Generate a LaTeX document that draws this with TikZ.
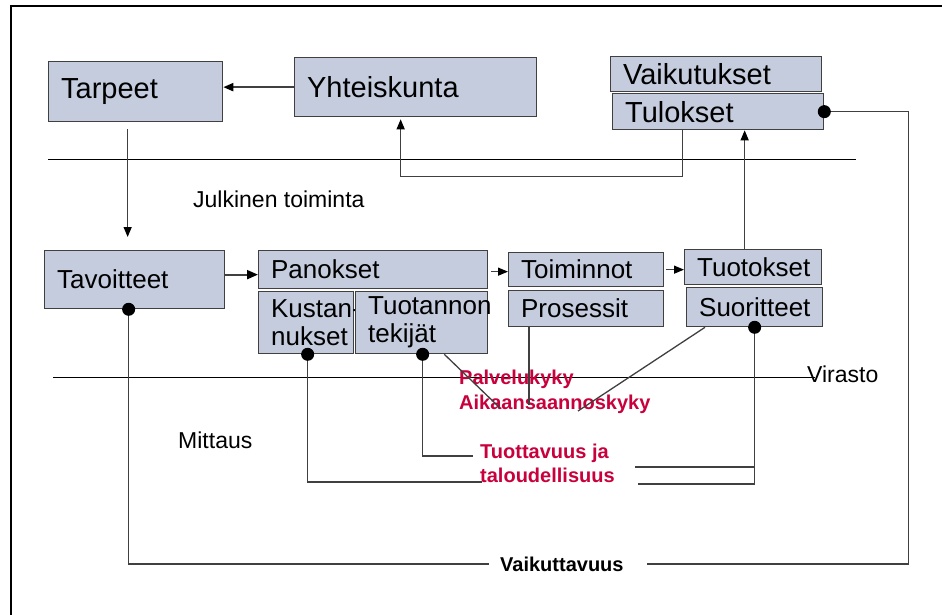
\documentclass[tikz,border=0pt]{standalone}
\usepackage{fontspec}
\setmainfont{Liberation Sans}
\usepackage{tikz}
\usetikzlibrary{arrows.meta}
\definecolor{boxfill}{RGB}{196,204,222}
\definecolor{boxline}{RGB}{64,64,64}
\definecolor{lblred}{RGB}{200,0,60}
\hyphenpenalty=10000

\begin{document}
\begin{tikzpicture}[x=1pt,y=-1pt,>={Triangle[length=10pt,width=8pt,color=black]},
  box/.style={draw=boxline,fill=boxfill,line width=1.3pt,anchor=north west,
    inner xsep=12.5pt,inner ysep=0pt,align=left},
  bigtxt/.style={font=\fontsize{29}{34}\selectfont},
  midtxt/.style={font=\fontsize{26}{28}\selectfont},
  plaintxt/.style={font=\fontsize{23}{27}\selectfont,inner sep=0pt},
  redlbl/.style={font=\bfseries\fontsize{20}{25}\selectfont,text=lblred,align=left,inner sep=0pt},
  conn/.style={draw=black!75,line width=1.3pt},
  dotline/.style={conn,{Circle[length=13pt,color=black]}-,shorten <=-6.5pt},
  sepline/.style={draw=black,line width=0.9pt}]
  \useasboundingbox (0,0) rectangle (942,615);
  \draw[line width=2pt] (11,615) -- (11,6) -- (942,6);
  \draw[sepline] (48,159) -- (856,159);
  \draw[sepline] (53,377) -- (815,377);

  \node[box,bigtxt,text width=149pt,minimum height=60pt] (tarpeet) at (48,61) {Tarpeet};
  \node[box,bigtxt,text width=217pt,minimum height=59pt] (yhteiskunta) at (294,57) {Yhteiskunta};
  \node[box,bigtxt,text width=186pt,minimum height=35pt] (vaikutukset) at (610,56) {Vaikutukset};
  \node[box,bigtxt,text width=186pt,minimum height=36pt] (tulokset) at (612,93) {Tulokset};

  \node[box,midtxt,text width=155pt,minimum height=58pt] (tavoitteet) at (44,250) {Tavoitteet};
  \node[box,midtxt,text width=204pt,minimum height=38pt] (panokset) at (258,250) {Panokset};
  \node[box,midtxt,text width=70pt,minimum height=62pt] (kustan) at (258,291) {\mbox{Kustan-}\\nukset};
  \node[box,midtxt,text width=107pt,minimum height=62pt] (tuotannon) at (355,291) {\mbox{Tuotannon}\\tekijät};
  \node[box,midtxt,text width=130pt,minimum height=34pt] (toiminnot) at (508,252) {Toiminnot};
  \node[box,midtxt,text width=130pt,minimum height=36pt] (prosessit) at (508,290) {Prosessit};
  \node[box,midtxt,text width=112pt,minimum height=35pt] (tuotokset) at (684,249) {\mbox{Tuotokset}};
  \node[box,midtxt,text width=111pt,minimum height=39pt] (suoritteet) at (686,287) {Suoritteet};

  \node[plaintxt,anchor=base west] (julkinen) at (193,207) {Julkinen toiminta};
  \node[plaintxt,anchor=base west] (mittaus) at (178,448) {Mittaus};
  \node[plaintxt,anchor=base west] (virasto) at (807,382) {Virasto};
  \node[redlbl,anchor=north west] (kyky) at (459,370) {Palvelukyky\\Aikaansaannoskyky};
  \node[redlbl,font=\bfseries\fontsize{20}{24}\selectfont,anchor=north west] (tuottavuus) at (480,444) {Tuottavuus ja\\taloudellisuus};
  \node[font=\bfseries\fontsize{20}{24}\selectfont,inner sep=0pt,anchor=base west] (vaikuttavuus) at (500,571) {Vaikuttavuus};

  \coordinate (kend) at (482,482);
  \coordinate (tend) at (473,456);
  \coordinate (diag1) at (500,408);
  \coordinate (proend) at (529,405);
  \coordinate (diag2) at (578,411);
  \coordinate (send) at (638,484);
  \coordinate (sbranch) at (635,467);

  \draw[conn,->,line width=2pt] (yhteiskunta.west) -- (yhteiskunta.west -| tarpeet.east);
  \draw[conn,->,shorten <=7pt,shorten >=13pt] ([xshift=-8pt]tarpeet.south) -- ([xshift=-7pt]tavoitteet.north);
  \draw[conn,->,shorten >=2pt] ([xshift=-36pt]tulokset.south) -- ++(0,46) -| ([xshift=-15pt]yhteiskunta.south);
  \draw[conn,->] ([xshift=-8.5pt]tuotokset.north) -- ([xshift=-8.5pt]tuotokset.north |- tulokset.south);
  \draw[dotline] (tulokset.east) -- ++(84,0) |- ([xshift=23pt]vaikuttavuus.east);
  \draw[dotline] ([xshift=-6pt]tavoitteet.south) |- ([xshift=-11pt]vaikuttavuus.west);

  \draw[conn,-{Triangle[length=11pt,width=9pt,color=black]},line width=2pt] ([yshift=5pt]tavoitteet.east) -- ([yshift=5pt]tavoitteet.east -| panokset.west);
  \draw[conn,->,shorten <=3pt] ([yshift=-2pt]panokset.east) -- ([yshift=-2pt]panokset.east -| toiminnot.west);
  \draw[conn,->,shorten <=2pt] (toiminnot.east) -- (toiminnot.east -| tuotokset.west);

  \draw[dotline] ([xshift=1.5pt]kustan.south) |- (kend);
  \draw[dotline] ([xshift=1pt]tuotannon.south) |- (tend);
  \draw[conn] ([xshift=-44pt]tuotannon.south east) -- (diag1);
  \draw[conn] (prosessit.south -| proend) -- (proend);
  \draw[conn] ([xshift=19pt]suoritteet.south west) -- (diag2);
  \draw[dotline] (suoritteet.south) |- (send);
  \draw[conn] (suoritteet.south |- sbranch) -- (sbranch);
\end{tikzpicture}
\end{document}
